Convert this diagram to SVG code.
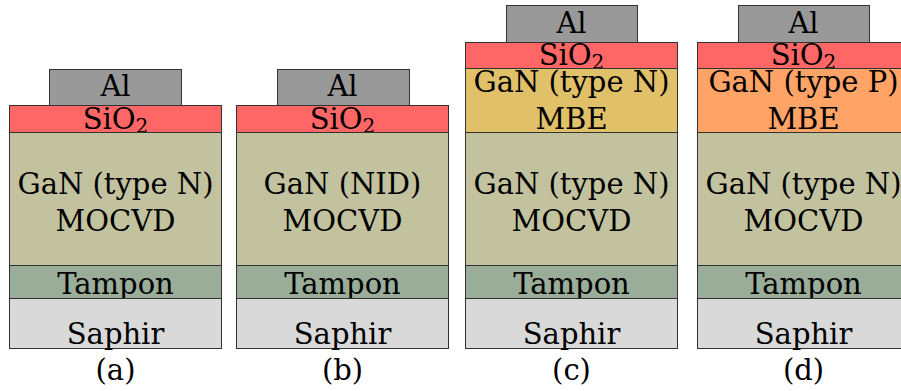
<svg xmlns="http://www.w3.org/2000/svg" width="901" height="391" viewBox="0 0 901 391">
<style>
.l{stroke:#333333;stroke-width:1}
.al{fill:#999999}
.sio{fill:#ff6666}
.gan{fill:#c2c29e}
.tam{fill:#99ad99}
.sap{fill:#d9d9d9}
.mben{fill:#e0c068}
.mbep{fill:#ffa366}
text{font-family:"DejaVu Serif","Liberation Serif","Noto Serif","Times New Roman",Times,serif;font-size:29px;fill:#000;text-anchor:middle}
.sub{font-size:20px}
</style>
<rect x="0" y="0" width="901" height="391" fill="#ffffff"/>
<g id="panel-a">
  <g id="a-al"><rect class="l al" x="49.5" y="69.5" width="132" height="36"/><text x="115.5" y="95.5">Al</text></g>
  <g id="a-sio2"><rect class="l sio" x="9.5" y="105.5" width="212" height="27"/><text x="115.5" y="128.5">SiO<tspan class="sub" dy="4">2</tspan></text></g>
  <g id="a-gan"><rect class="l gan" x="9.5" y="132.5" width="212" height="133"/><text x="115.5" y="193.5">GaN (type N)</text><text x="115.5" y="231">MOCVD</text></g>
  <g id="a-tampon"><rect class="l tam" x="9.5" y="265.5" width="212" height="33"/><text x="115.5" y="294">Tampon</text></g>
  <g id="a-saphir"><rect class="l sap" x="9.5" y="298.5" width="212" height="50"/><text x="115.5" y="343.5">Saphir</text></g>
  <text x="115.5" y="380">(a)</text>
</g>

<g id="panel-b">
  <g id="b-al"><rect class="l al" x="277.5" y="69.5" width="132" height="36"/><text x="342.5" y="95.5">Al</text></g>
  <g id="b-sio2"><rect class="l sio" x="236.5" y="105.5" width="212" height="27"/><text x="342.5" y="128.5">SiO<tspan class="sub" dy="4">2</tspan></text></g>
  <g id="b-gan"><rect class="l gan" x="236.5" y="132.5" width="212" height="133"/><text x="342.5" y="193.5">GaN (NID)</text><text x="342.5" y="231">MOCVD</text></g>
  <g id="b-tampon"><rect class="l tam" x="236.5" y="265.5" width="212" height="33"/><text x="342.5" y="294">Tampon</text></g>
  <g id="b-saphir"><rect class="l sap" x="236.5" y="298.5" width="212" height="50"/><text x="342.5" y="343.5">Saphir</text></g>
  <text x="342.5" y="380">(b)</text>
</g>

<g id="panel-c">
  <g id="c-al"><rect class="l al" x="506.5" y="5.5" width="131" height="37"/><text x="571.5" y="32.5">Al</text></g>
  <g id="c-sio2"><rect class="l sio" x="465.5" y="42.5" width="212" height="26"/><text x="571.5" y="64.5">SiO<tspan class="sub" dy="4">2</tspan></text></g>
  <g id="c-mbe"><rect class="l mben" x="465.5" y="68.5" width="212" height="64"/><text x="571.5" y="92">GaN (type N)</text><text x="571.5" y="129">MBE</text></g>
  <g id="c-gan"><rect class="l gan" x="465.5" y="132.5" width="212" height="133"/><text x="571.5" y="193.5">GaN (type N)</text><text x="571.5" y="231">MOCVD</text></g>
  <g id="c-tampon"><rect class="l tam" x="465.5" y="265.5" width="212" height="33"/><text x="571.5" y="294">Tampon</text></g>
  <g id="c-saphir"><rect class="l sap" x="465.5" y="298.5" width="212" height="50"/><text x="571.5" y="343.5">Saphir</text></g>
  <text x="571.5" y="380">(c)</text>
</g>

<g id="panel-d">
  <g id="d-al"><rect class="l al" x="738.5" y="5.5" width="131" height="37"/><text x="803.5" y="32.5">Al</text></g>
  <g id="d-sio2"><rect class="l sio" x="697.5" y="42.5" width="212" height="26"/><text x="803.5" y="64.5">SiO<tspan class="sub" dy="4">2</tspan></text></g>
  <g id="d-mbe"><rect class="l mbep" x="697.5" y="68.5" width="212" height="64"/><text x="803.5" y="92">GaN (type P)</text><text x="803.5" y="129">MBE</text></g>
  <g id="d-gan"><rect class="l gan" x="697.5" y="132.5" width="212" height="133"/><text x="803.5" y="193.5">GaN (type N)</text><text x="803.5" y="231">MOCVD</text></g>
  <g id="d-tampon"><rect class="l tam" x="697.5" y="265.5" width="212" height="33"/><text x="803.5" y="294">Tampon</text></g>
  <g id="d-saphir"><rect class="l sap" x="697.5" y="298.5" width="212" height="50"/><text x="803.5" y="343.5">Saphir</text></g>
  <text x="803.5" y="380">(d)</text>
</g>
</svg>
